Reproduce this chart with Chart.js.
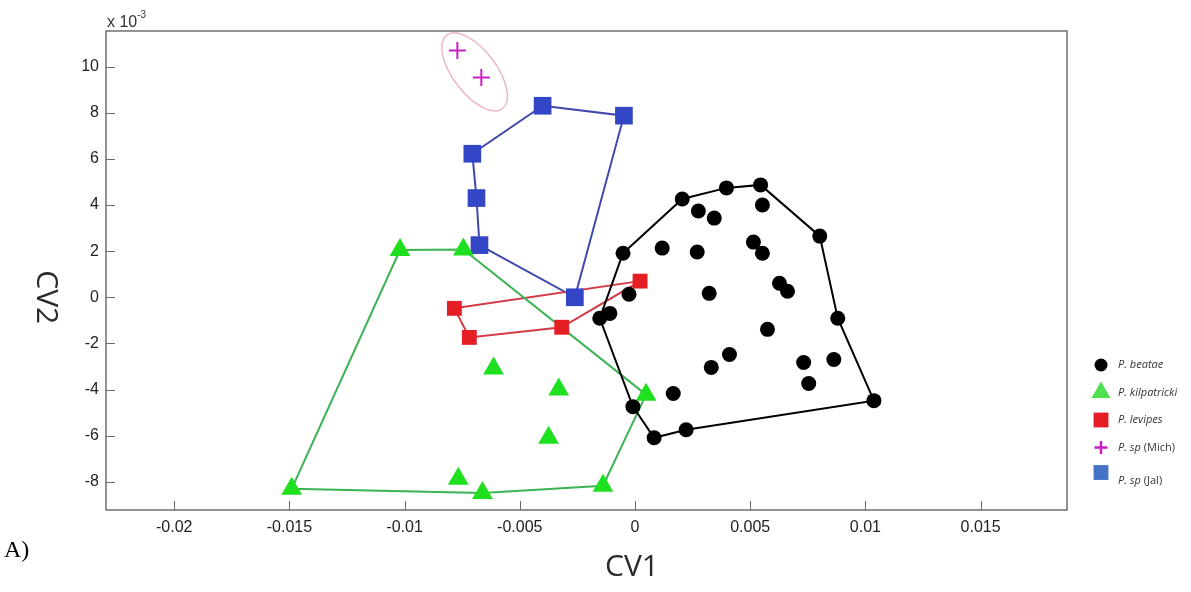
<!DOCTYPE html>
<html>
<head>
<meta charset="utf-8">
<script src="https://cdn.jsdelivr.net/npm/chart.js@4.4.0/dist/chart.umd.min.js"></script>
<style>
  html, body { margin: 0; padding: 0; background: #fff; }
  #wrap { width: 1191px; height: 592px; position: relative; }
</style>
</head>
<body>
<div id="wrap"><canvas id="cvaChart"></canvas></div>
<script>
// CV1 scores (raw) and CV2 scores (x 10^-3) per species
// first entries of each list are the hull vertices, in drawing order
const beataeX = [-0.00052, 0.00205, 0.00397, 0.00545, 0.00802, 0.0088, 0.01037, 0.00222, 0.00083, -0.00009, -0.00153,
                 0.00118, 0.0027, 0.00275, 0.00344, 0.00514, 0.00553, 0.00553, 0.00627, 0.00662, 0.0041,
                 0.00331, 0.00166, 0.00732, 0.00863, 0.00754, 0.00575, -0.00109, -0.00026, 0.00322];
const beataeY = [1.91, 4.26, 4.74, 4.87, 2.65, -0.91, -4.48, -5.74, -6.09, -4.74, -0.91,
                 2.13, 1.96, 3.74, 3.43, 2.39, 1.91, 4.0, 0.61, 0.26, -2.48,
                 -3.04, -4.17, -2.83, -2.70, -3.74, -1.39, -0.70, 0.13, 0.17];
const beataeHull = [0, 1, 2, 3, 4, 5, 6, 7, 8, 9, 10];

const kilpatrickiX = [-0.0102, -0.00745, 0.00048, -0.00139, -0.00662, -0.0149, -0.00767, -0.00614, -0.00331, -0.00375];
const kilpatrickiY = [2.05, 2.07, -4.22, -8.17, -8.48, -8.30, -7.87, -3.09, -4.00, -6.09];
const kilpatrickiHull = [0, 1, 2, 3, 4, 5];

const levipesX = [-0.00784, 0.00022, -0.00318, -0.00719];
const levipesY = [-0.48, 0.70, -1.30, -1.74];
const levipesHull = [0, 1, 2, 3];

const jalX = [-0.00401, -0.00048, -0.00261, -0.00675, -0.00688, -0.00706];
const jalY = [8.30, 7.87, 0.0, 2.26, 4.30, 6.22];
const jalHull = [0, 1, 2, 3, 4, 5];

const michX = [-0.00771, -0.00667];
const michY = [10.70, 9.52];
// ellipse round the Mich pair: centre, end of the long half-axis, short/long ratio
const michEllipseCenter = [-0.00696, 9.77];
const michEllipseAxisEnd = [-0.00575, 8.18];
const michEllipseRatio = 0.47;

const xTicks = [-0.02, -0.015, -0.01, -0.005, 0, 0.005, 0.01, 0.015];
const yTicks = [-8, -6, -4, -2, 0, 2, 4, 6, 8, 10];

const toPoints = (xs, ys) => xs.map((v, i) => ({ x: v, y: ys[i] }));
const toHull = (xs, ys, idx) => idx.concat(idx[0]).map(i => ({ x: xs[i], y: ys[i] }));

const species = [
  { name: 'beatae', xs: beataeX, ys: beataeY, hull: beataeHull, style: 'circle', radius: 7.5,
    fill: '#000000', line: '#000000' },
  { name: 'kilpatricki', xs: kilpatrickiX, ys: kilpatrickiY, hull: kilpatrickiHull, style: 'triangle', radius: 12,
    fill: '#1ee01e', line: '#3cb455' },
  { name: 'levipes', xs: levipesX, ys: levipesY, hull: levipesHull, style: 'rect', radius: 10.5,
    fill: '#e41e24', line: '#d23a44' },
  { name: 'jal', xs: jalX, ys: jalY, hull: jalHull, style: 'rect', radius: 12.5,
    fill: '#3346c6', line: '#4048ac' }
];

const datasets = [];
species.forEach(s => {
  datasets.push({
    label: s.name + ' hull',
    data: toHull(s.xs, s.ys, s.hull),
    showLine: true,
    borderColor: s.line,
    borderWidth: 2,
    pointRadius: 0,
    order: 10
  });
  datasets.push({
    label: s.name,
    data: toPoints(s.xs, s.ys),
    pointStyle: s.style,
    pointRadius: s.radius,
    backgroundColor: s.fill,
    borderColor: s.fill,
    borderWidth: 0,
    order: 1
  });
});
datasets.push({
  label: 'mich',
  data: toPoints(michX, michY),
  pointStyle: 'cross',
  pointRadius: 8.5,
  borderColor: '#c81ec8',
  borderWidth: 2,
  order: 1
});

// legend entries drawn by hand so the genus part can stay italic
const legendItems = [
  { italic: 'P. beatae', plain: '', style: 'circle', size: 6.5, color: '#000000' },
  { italic: 'P. kilpatricki', plain: '', style: 'triangle', size: 11, color: '#4ee04e' },
  { italic: 'P. levipes', plain: '', style: 'rect', size: 10.5, color: '#e41e24' },
  { italic: 'P. sp', plain: ' (Mich)', style: 'cross', size: 6.5, color: '#c81ec8' },
  { italic: 'P. sp', plain: ' (Jal)', style: 'rect', size: 10.5, color: '#4472c4' }
];

const framePlugin = {
  id: 'frame',
  beforeDatasetsDraw(chart) {
    const { ctx, scales: { x, y } } = chart;
    const cx = x.getPixelForValue(michEllipseCenter[0]);
    const cy = y.getPixelForValue(michEllipseCenter[1]);
    const ex = x.getPixelForValue(michEllipseAxisEnd[0]);
    const ey = y.getPixelForValue(michEllipseAxisEnd[1]);
    const a = Math.hypot(ex - cx, ey - cy);
    ctx.save();
    ctx.strokeStyle = '#ebb8c0';
    ctx.lineWidth = 1.5;
    ctx.beginPath();
    ctx.ellipse(cx, cy, a, a * michEllipseRatio, Math.atan2(ey - cy, ex - cx), 0, Math.PI * 2);
    ctx.stroke();
    ctx.restore();
  },
  afterDraw(chart) {
    const { ctx, chartArea: a, scales: { x, y } } = chart;
    ctx.save();

    // axes box
    ctx.strokeStyle = '#5a5a5a';
    ctx.lineWidth = 1.3;
    ctx.strokeRect(a.left, a.top, a.right - a.left, a.bottom - a.top);

    // tick marks point into the plot
    ctx.strokeStyle = '#6a6a6a';
    ctx.lineWidth = 1;
    ctx.beginPath();
    xTicks.forEach(v => {
      const px = Math.round(x.getPixelForValue(v)) + 0.5;
      ctx.moveTo(px, a.bottom);
      ctx.lineTo(px, a.bottom - 9);
    });
    yTicks.forEach(v => {
      const py = Math.round(y.getPixelForValue(v)) + 0.5;
      ctx.moveTo(a.left, py);
      ctx.lineTo(a.left + 9, py);
    });
    ctx.stroke();

    // exponent note above the y axis
    ctx.fillStyle = '#333';
    ctx.textBaseline = 'alphabetic';
    ctx.textAlign = 'left';
    ctx.font = '16px "Liberation Sans", Arial, sans-serif';
    ctx.fillText('x 10', a.left + 1, a.top - 4);
    const w = ctx.measureText('x 10').width;
    ctx.font = '10px "Liberation Sans", Arial, sans-serif';
    ctx.fillText('-3', a.left + 1 + w, a.top - 13);

    // axis titles: CV1 sits under the zero tick, CV2 reads downwards
    ctx.font = '30px "Open Sans", sans-serif';
    ctx.fillStyle = '#2a2a2a';
    ctx.textAlign = 'center';
    ctx.textBaseline = 'middle';
    ctx.fillText('CV1', x.getPixelForValue(0) - 3, 567);
    ctx.save();
    ctx.translate(46, y.getPixelForValue(0));
    ctx.rotate(Math.PI / 2);
    ctx.fillText('CV2', 0, 0);
    ctx.restore();

    // panel letter
    ctx.font = '24px "Liberation Serif", "Times New Roman", serif';
    ctx.fillStyle = '#000';
    ctx.textAlign = 'left';
    ctx.fillText('A)', 4, 551);

    // legend
    let ly = 365;
    legendItems.forEach((item, i) => {
      const my = i === 4 ? ly - 6 : ly;
      if (item.style === 'cross') {
        ctx.strokeStyle = item.color;
        ctx.lineWidth = 2.5;
        ctx.beginPath();
        ctx.moveTo(1101 - item.size, my); ctx.lineTo(1101 + item.size, my);
        ctx.moveTo(1101, my - item.size); ctx.lineTo(1101, my + item.size);
        ctx.stroke();
      } else {
        ctx.fillStyle = item.color;
        ctx.beginPath();
        if (item.style === 'circle') {
          ctx.arc(1101, my, item.size, 0, Math.PI * 2);
        } else if (item.style === 'triangle') {
          const r = item.size;
          ctx.moveTo(1101, my - r);
          ctx.lineTo(1101 + r * 0.866, my + r * 0.5);
          ctx.lineTo(1101 - r * 0.866, my + r * 0.5);
        } else {
          const h = item.size * Math.SQRT1_2;
          ctx.rect(1101 - h, my - h, 2 * h, 2 * h);
        }
        ctx.fill();
      }
      ctx.fillStyle = '#333';
      ctx.textAlign = 'left';
      ctx.textBaseline = 'middle';
      ctx.font = 'italic 11px "Open Sans", sans-serif';
      ctx.fillText(item.italic, 1118, ly + (i === 4 ? 2 : 0));
      if (item.plain) {
        const iw = ctx.measureText(item.italic).width;
        ctx.font = '11px "Open Sans", sans-serif';
        ctx.fillText(item.plain, 1118 + iw, ly + (i === 4 ? 2 : 0));
      }
      ly += i === 3 ? 31 : 27.5;
    });

    ctx.restore();
  }
};

const tickFont = { family: '"Liberation Sans", Arial, sans-serif', size: 16 };

new Chart(document.getElementById('cvaChart'), {
  type: 'scatter',
  data: { datasets },
  options: {
    responsive: true,
    maintainAspectRatio: false,
    animation: false,
    layout: { padding: { left: 0, right: 124, top: 31, bottom: 0 } },
    plugins: { legend: { display: false }, tooltip: { enabled: false } },
    scales: {
      x: {
        type: 'linear',
        min: -0.02296,
        max: 0.01875,
        grid: { display: false, drawTicks: false },
        border: { display: false },
        afterBuildTicks: s => { s.ticks = xTicks.map(v => ({ value: v })); },
        afterFit: s => { s.height = 82; },
        ticks: {
          color: '#222',
          font: tickFont,
          padding: 8,
          maxRotation: 0,
          callback: v => String(+Number(v).toFixed(4))
        }
      },
      y: {
        type: 'linear',
        min: -9.22,
        max: 11.54,
        grid: { display: false, drawTicks: false },
        border: { display: false },
        afterBuildTicks: s => { s.ticks = yTicks.map(v => ({ value: v })); },
        afterFit: s => { s.width = 106; },
        ticks: {
          color: '#222',
          font: tickFont,
          padding: 7,
          callback: v => String(v)
        }
      }
    }
  },
  plugins: [framePlugin]
});
</script>
</body>
</html>
